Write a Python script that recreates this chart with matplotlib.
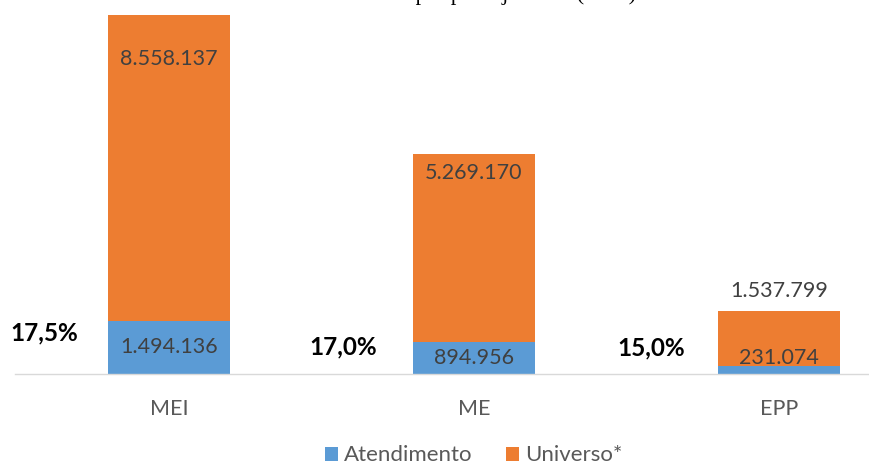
import matplotlib
matplotlib.use("Agg")
import matplotlib.pyplot as plt
import numpy as np

# data
categorias = ["MEI", "ME", "EPP"]
atendimento = [1494136, 894956, 231074]
universo = [8558137, 5269170, 1537799]
percentuais = ["17,5%", "17,0%", "15,0%"]
series = ["Atendimento", "Universo*"]

BLUE = "#5B9BD5"
ORANGE = "#ED7D31"
GREY_TXT = "#404040"

plt.rcParams["font.family"] = ["Lato", "DejaVu Sans"]


def fmt(v):
    return f"{v:,}".replace(",", ".")


fig = plt.figure(figsize=(8.69, 4.69), dpi=100)
ax = fig.add_axes([15 / 869, 95 / 469, 854 / 869, 374 / 469])

x = np.arange(len(categorias))
w = 0.40
ax.bar(x, atendimento, w, color=BLUE, label=series[0], zorder=2)
ax.bar(x, universo, w, bottom=atendimento, color=ORANGE, label=series[1], zorder=2)

ax.set_xlim(-0.505, 2.295)
ax.set_ylim(0, 10.47e6)

# labels in the orange part (offset from the top, in points)
top_off = [-32, -14, 14]
for i in range(len(x)):
    tot = atendimento[i] + universo[i]
    ax.annotate(fmt(universo[i]), (x[i], tot), xytext=(0, top_off[i]),
                textcoords="offset points", ha="center", va="center",
                fontsize=15.5, color=GREY_TXT, zorder=3)
    yb = max(atendimento[i] / 2, 0.45e6)
    ax.text(x[i], yb, fmt(atendimento[i]), ha="center", va="center",
            fontsize=15.5, color=GREY_TXT, zorder=3)

# percentage labels left of the bars
pct_y = [1.15e6, 0.76e6, 0.73e6]
pct_dx = [-0.41, -0.43, -0.42]
for i in range(len(x)):
    ax.text(x[i] + pct_dx[i], pct_y[i], percentuais[i], ha="center", va="center",
            fontsize=17.5, fontweight="bold", color="black")

for s in ["top", "right", "left"]:
    ax.spines[s].set_visible(False)
ax.spines["bottom"].set_color("#D9D9D9")
ax.spines["bottom"].set_linewidth(1.0)
ax.set_yticks([])
ax.set_xticks(x)
ax.set_xticklabels(categorias, fontsize=15.5, color="#595959")
ax.tick_params(axis="x", length=0, pad=18)

leg = fig.legend(loc="lower center", bbox_to_anchor=(0.545, -0.035), ncol=2,
                 frameon=False, fontsize=16, handlelength=0.6, handleheight=0.6,
                 handletextpad=0.25, columnspacing=1.5)
for t in leg.get_texts():
    t.set_color("#595959")

# title cut off by the top edge of the picture
fig.text(0.535, 1.0, "Atendimento por porte jurídico (2017)", ha="center",
         va="baseline", fontsize=16, family="Liberation Serif", color="black")

fig.savefig("out.png", dpi=100)
